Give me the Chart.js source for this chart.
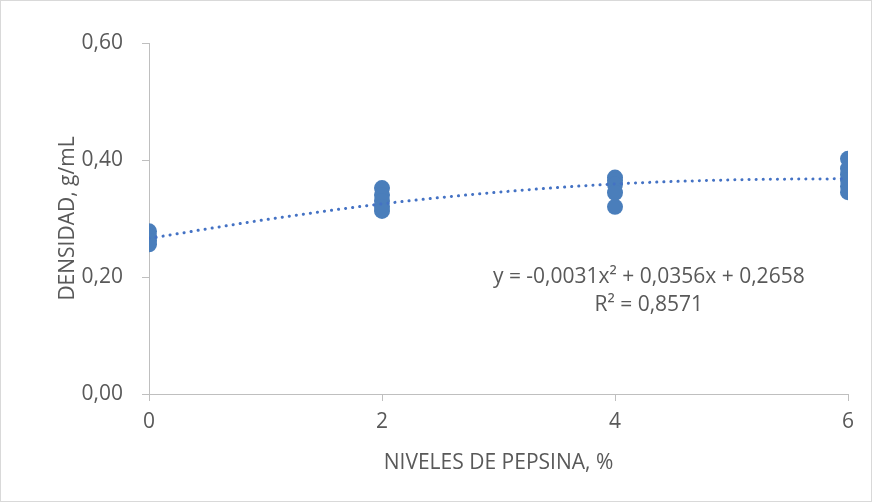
<!DOCTYPE html>
<html>
<head>
<meta charset="utf-8">
<script src="https://cdn.jsdelivr.net/npm/chart.js@4/dist/chart.umd.min.js"></script>
<style>
  html, body { margin: 0; padding: 0; background: #fff; }
  #wrap { position: relative; width: 870px; height: 500px; border: 1px solid #d9d9d9; }
</style>
</head>
<body>
<div id="wrap"><canvas id="chart"></canvas></div>
<script>
const pepsinLevels = [0, 0, 0, 0, 2, 2, 2, 2, 2, 4, 4, 4, 4, 4, 6, 6, 6, 6, 6, 6];
const densities = [0.278, 0.27, 0.262, 0.256, 0.352, 0.34, 0.33, 0.32, 0.313,
  0.37, 0.365, 0.358, 0.344, 0.32, 0.402, 0.385, 0.375, 0.365, 0.355, 0.345];

// Trend line
const trendX = [0, 1, 2, 3, 4, 5, 6];
const trendY = [0.266, 0.298, 0.325, 0.345, 0.359, 0.366, 0.368];

const xTicks = [0, 2, 4, 6];
const equationLines = ['y = -0,0031x\u00b2 + 0,0356x + 0,2658', 'R\u00b2 = 0,8571'];

const axisGray = '#bfbfbf';
const textGray = '#595959';
const blue = '#4a7ebb';
const fontFamily = "'Open Sans', 'Liberation Sans', sans-serif";
const fontSize = 21;

const equationLabel = {
  id: 'equationLabel',
  afterDatasetsDraw(chart) {
    const { ctx, scales } = chart;
    ctx.save();
    ctx.fillStyle = textGray;
    ctx.font = fontSize + 'px ' + fontFamily;
    ctx.textAlign = 'center';
    ctx.textBaseline = 'middle';
    const cx = scales.x.getPixelForValue(4.29);
    const y0 = scales.y.getPixelForValue(0.2);
    ctx.fillText(equationLines[0], cx, y0);
    ctx.fillText(equationLines[1], cx, y0 + 28);
    ctx.restore();
  }
};

new Chart(document.getElementById('chart'), {
  type: 'scatter',
  data: {
    datasets: [
      {
        label: 'Densidad',
        data: pepsinLevels.map((x, i) => ({ x: x, y: densities[i] })),
        backgroundColor: blue,
        borderWidth: 0,
        pointRadius: 8,
        order: 2,
      },
      {
        label: 'Tendencia',
        type: 'line',
        data: trendX.map((x, i) => ({ x: x, y: trendY[i] })),
        borderColor: '#4472c4',
        borderWidth: 3,
        borderDash: [0.1, 7],
        borderCapStyle: 'round',
        cubicInterpolationMode: 'monotone',
        pointRadius: 0,
        fill: false,
        order: 1,
      },
    ],
  },
  options: {
    responsive: true,
    maintainAspectRatio: false,
    animation: false,
    layout: { padding: { top: 42, right: 23, bottom: 0, left: 0 } },
    plugins: {
      legend: { display: false },
      tooltip: { enabled: false },
    },
    scales: {
      x: {
        type: 'linear',
        min: 0,
        max: 6,
        afterBuildTicks: (axis) => { axis.ticks = xTicks.map(v => ({ value: v })); },
        afterFit: (axis) => { axis.height = 107; },
        ticks: { color: textGray, font: { size: fontSize, family: fontFamily }, padding: 8 },
        grid: { display: true, drawOnChartArea: false, drawTicks: true, tickLength: 7, color: axisGray },
        border: { color: axisGray, width: 1 },
        title: {
          display: true,
          text: 'NIVELES DE PEPSINA, %',
          color: textGray,
          font: { size: fontSize, family: fontFamily },
          padding: { top: 25, bottom: 25 },
        },
      },
      y: {
        min: 0,
        max: 0.6,
        afterFit: (axis) => { axis.width = 148; },
        ticks: {
          stepSize: 0.2,
          color: textGray,
          font: { size: fontSize, family: fontFamily },
          padding: 19,
          callback: (v) => v.toFixed(2).replace('.', ','),
        },
        grid: { display: true, drawOnChartArea: false, drawTicks: true, tickLength: 7, color: axisGray },
        border: { color: axisGray, width: 1 },
        title: {
          display: true,
          text: 'DENSIDAD, g/mL',
          color: textGray,
          font: { size: fontSize, family: fontFamily },
          padding: { top: 54, bottom: 47 },
        },
      },
    },
  },
  plugins: [equationLabel],
});
</script>
</body>
</html>
